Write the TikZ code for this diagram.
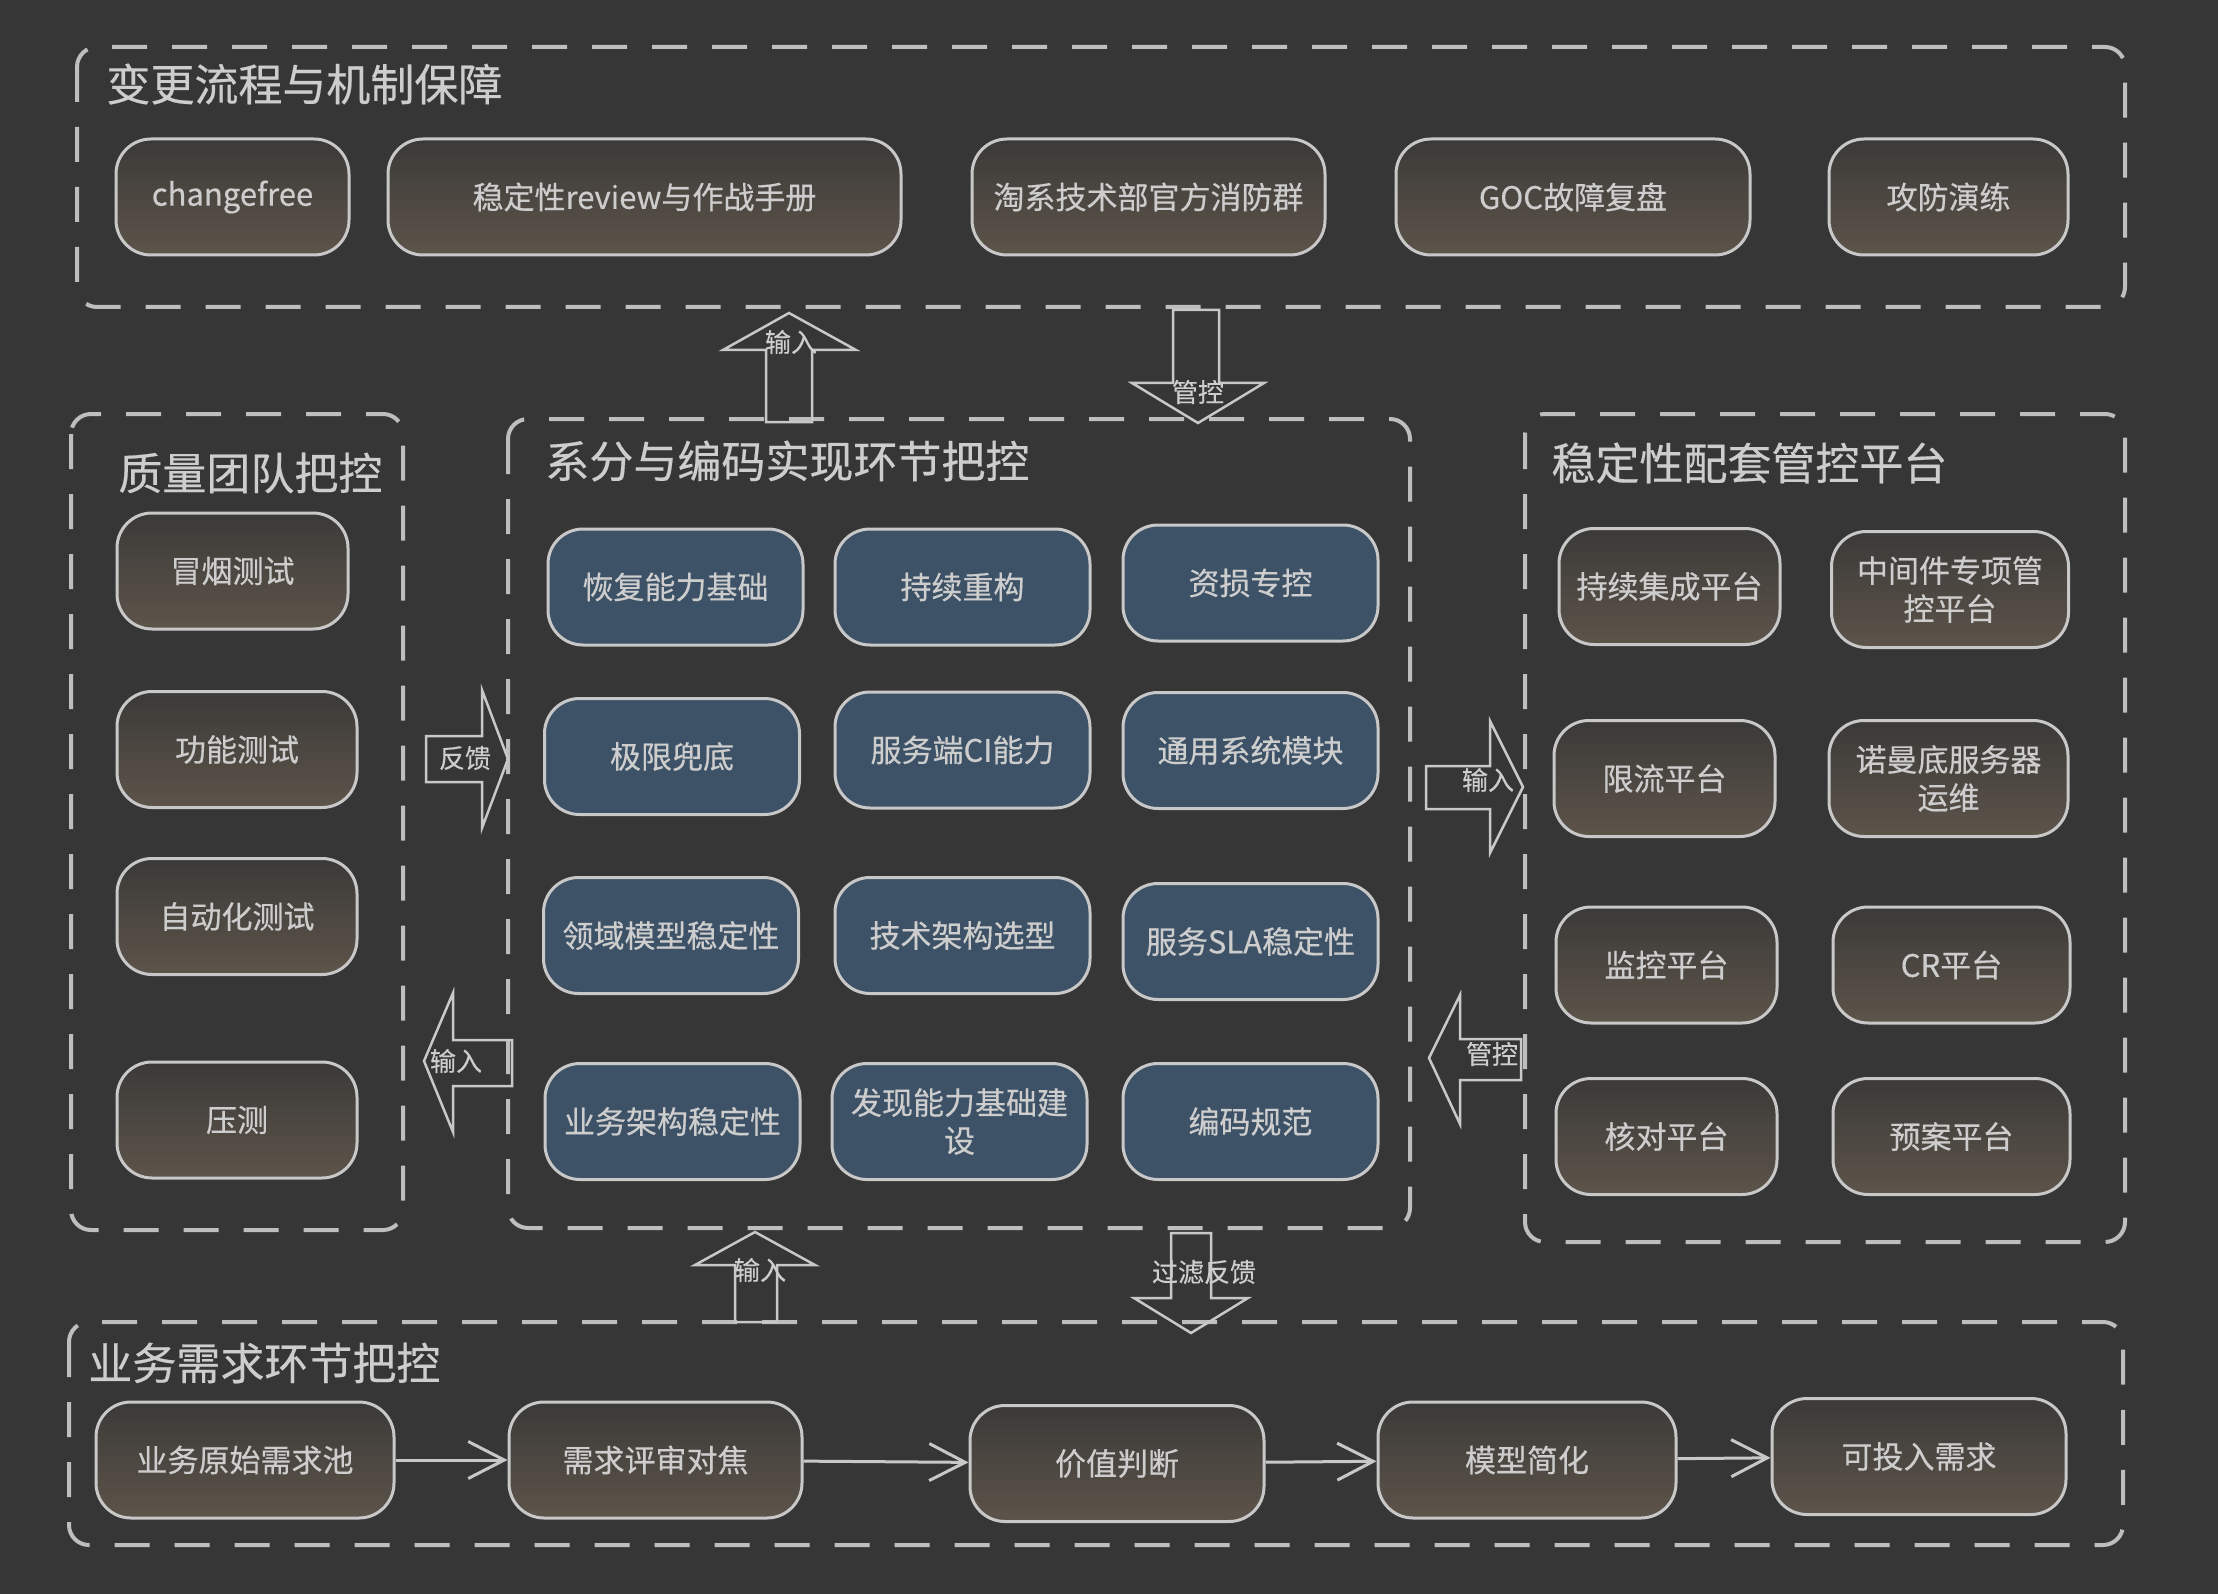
\documentclass[tikz,border=0pt]{standalone}
\usepackage{fontspec}
\usepackage[dvipsnames, svgnames]{xcolor}
\usepackage{tikz}
\usetikzlibrary{arrows.meta}
\usetikzlibrary{calc}

\newfontfamily\cjk[FakeBold=0.4]{Noto Sans CJK SC}
\definecolor{bgdark}{HTML}{363636}
\definecolor{edgegray}{HTML}{C8C8C8}
\definecolor{dashgray}{HTML}{BEBEBE}
\definecolor{textgray}{HTML}{CDCDCD}
\definecolor{browntop}{HTML}{3B3A38}
\definecolor{brownbot}{HTML}{5D544A}
\definecolor{bluebox}{HTML}{3D5266}

\begin{document}
\begin{tikzpicture}[x=0.5pt,y=-0.5pt,
  group/.style={draw=dashgray, line width=2pt, dash pattern=on 17.5pt off 12.5pt, rounded corners=10pt},
  grouptitle/.style={anchor=west, text=textgray, inner sep=0pt, font=\cjk\fontsize{22}{26}\selectfont},
  item/.style={draw=edgegray, line width=1.5pt, rounded corners=17.5pt, top color=browntop, bottom color=brownbot,
    text=textgray, align=center, inner sep=0pt, minimum height=58pt, font=\cjk\fontsize{15.5}{19}\selectfont},
  bluitem/.style={item, top color=bluebox, bottom color=bluebox, minimum width=127.5pt},
  blockarrow/.style={draw=edgegray, line width=1.25pt, line join=miter},
  arrowlabel/.style={text=textgray, inner sep=0pt, font=\cjk\fontsize{13}{15}\selectfont},
  flow/.style={draw=edgegray, line width=1.5pt, -{Straight Barb[length=18pt, width=18.5pt]}}
]
\useasboundingbox (0,0) rectangle (2218,1594);
\fill[bgdark] (0,0) rectangle (2218,1594);
%\draw[help lines] (0,0) grid (2218,1594);

% group frames
\draw[group] (77,47) rectangle (2125,307);
\draw[group] (71,414) rectangle (403,1230);
\draw[group] (508,419) rectangle (1410,1228);
\draw[group] (1525,414) rectangle (2125,1242);
\draw[group] (69,1322) rectangle (2123,1545);

\node[grouptitle] (ttop) at (106,84) {变更流程与机制保障};
\node[grouptitle] (tleft) at (118,473) {质量团队把控};
\node[grouptitle] (tmid) at (545,461) {系分与编码实现环节把控};
\node[grouptitle] (tright) at (1551,463) {稳定性配套管控平台};
\node[grouptitle] (tbottom) at (88,1363) {业务需求环节把控};

% top row
\node[item, minimum width=116.5pt] (cf) at (232.5,197) {changefree};
\node[item, minimum width=256.5pt] (review) at (644.5,197) {稳定性review与作战手册};
\node[item, minimum width=176.5pt] (fire) at (1148.5,197) {淘系技术部官方消防群};
\node[item, minimum width=177pt] (goc) at (1573,197) {GOC故障复盘};
\node[item, minimum width=119.5pt] (drill) at (1948.5,197) {攻防演练};

% quality team
\node[item, minimum width=115.5pt] (smoke) at (232.5,571) {冒烟测试};
\node[item, minimum width=120pt] (func) at (237,749.5) {功能测试};
\node[item, minimum width=120pt] (auto) at (237,916.5) {自动化测试};
\node[item, minimum width=120pt] (press) at (237,1120) {压测};

% design and coding
\foreach \nm/\x/\y/\txt in {b11/675.5/587/恢复能力基础, b12/962.5/587/持续重构, b13/1250.5/583/资损专控,
    b21/672/756.5/极限兜底, b22/962.5/750/服务端CI能力, b23/1250.5/750.5/通用系统模块,
    b31/671/935.5/领域模型稳定性, b32/962.5/935.5/技术架构选型, b33/1250.5/941.5/服务SLA稳定性,
    b41/672.5/1121.5/业务架构稳定性, b42/959.5/1121.5/{发现能力基础建\\设}, b43/1250.5/1121.5/编码规范}
  \node[bluitem] (\nm) at (\x,\y) {\txt};

% platforms
\node[item, minimum width=110.5pt] (ci) at (1669.5,586.5) {持续集成平台};
\node[item, minimum width=118.5pt] (mid) at (1950,589.5) {中间件专项管\\控平台};
\node[item, minimum width=110.5pt] (limit) at (1664.5,778.5) {限流平台};
\node[item, minimum width=119.5pt] (normandy) at (1948.5,778.5) {诺曼底服务器\\运维};
\node[item, minimum width=110.5pt] (monitor) at (1666.5,965) {监控平台};
\node[item, minimum width=118.5pt] (cr) at (1951.5,965) {CR平台};
\node[item, minimum width=110.5pt] (check) at (1666.5,1136.5) {核对平台};
\node[item, minimum width=118.5pt] (plan) at (1951.5,1136.5) {预案平台};

% requirement chain
\node[item, minimum width=149pt] (r1) at (245,1460) {业务原始需求池};
\node[item, minimum width=146.5pt] (r2) at (655.5,1460) {需求评审对焦};
\node[item, minimum width=147pt] (r3) at (1117,1463.5) {价值判断};
\node[item, minimum width=149pt] (r4) at (1527,1460) {模型简化};
\node[item, minimum width=147pt] (r5) at (1919,1456.5) {可投入需求};
\draw[flow] (r1) -- (r2);
\draw[flow] (r2) -- (r3);
\draw[flow] (r3) -- (r4);
\draw[flow] (r4) -- (r5);

% block arrows between groups
\draw[blockarrow] (766,422) -- (766,350) -- (723,350) -- (789,313) -- (856,350) -- (812,350) -- (812,422) -- cycle;
\draw[blockarrow] (1173,310) -- (1219,310) -- (1219,383) -- (1264,383) -- (1198,423) -- (1132,383) -- (1173,383) -- cycle;
\draw[blockarrow] (426,736) -- (482,736) -- (482,690) -- (508,759) -- (482,828) -- (482,782) -- (426,782) -- cycle;
\draw[blockarrow] (512,1040) -- (453,1040) -- (453,993) -- (424,1061) -- (453,1132) -- (453,1086) -- (512,1086) -- cycle;
\draw[blockarrow] (1426,766) -- (1490,766) -- (1490,721) -- (1523,787) -- (1490,853) -- (1490,809) -- (1426,809) -- cycle;
\draw[blockarrow] (1521,1039) -- (1460,1039) -- (1460,995) -- (1429,1058) -- (1460,1124) -- (1460,1080) -- (1521,1080) -- cycle;
\draw[blockarrow] (735,1322) -- (735,1265) -- (695,1265) -- (755,1232) -- (815,1265) -- (777,1265) -- (777,1322) -- cycle;
\draw[blockarrow] (1171,1233) -- (1211,1233) -- (1211,1298) -- (1248,1298) -- (1191,1333) -- (1134,1298) -- (1171,1298) -- cycle;

\node[arrowlabel] (la1) at (791,342) {输入};
\node[arrowlabel] (la2) at (1198,392) {管控};
\node[arrowlabel] (la3) at (465,758) {反馈};
\node[arrowlabel] (la4) at (456,1061) {输入};
\node[arrowlabel] (la5) at (1488,780) {输入};
\node[arrowlabel] (la6) at (1492,1054) {管控};
\node[arrowlabel] (la7) at (760,1270) {输入};
\node[arrowlabel] (la8) at (1204,1272) {过滤反馈};
\end{tikzpicture}
\end{document}
